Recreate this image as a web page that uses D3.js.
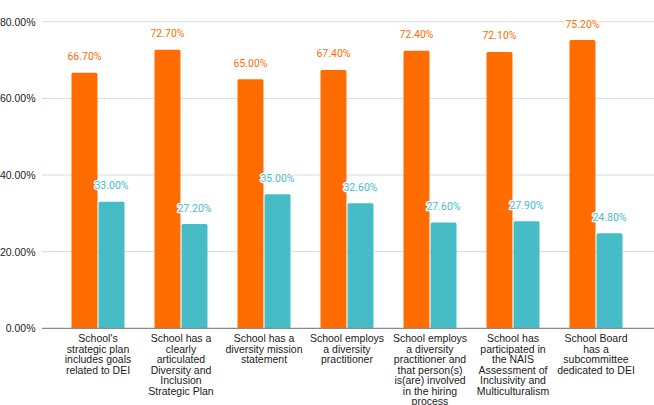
<!DOCTYPE html>
<html>
<head>
<meta charset="utf-8">
<script src="https://cdn.jsdelivr.net/npm/d3@7"></script>
<style>
  body { margin: 0; background: #fff; }
  svg { display: block; }
</style>
</head>
<body>
<div id="chart"></div>
<script>
// ---- data ----
const categories = [
    "School's strategic plan includes goals related to DEI",
    "School has a clearly articulated Diversity and Inclusion Strategic Plan",
    "School has a diversity mission statement",
    "School employs a diversity practitioner",
    "School employs a diversity practitioner and that person(s) is(are) involved in the hiring process",
    "School has participated in the NAIS Assessment of Inclusivity and Multiculturalism",
    "School Board has a subcommittee dedicated to DEI"
];
const seriesNames = ["Yes", "No"];
const yesValues = [66.7, 72.7, 65.0, 67.4, 72.4, 72.1, 75.2];
const noValues = [33.0, 27.2, 35.0, 32.6, 27.6, 27.9, 24.8];
const yTicks = [0, 20, 40, 60, 80];

const colors = { Yes: "#FF6D01", No: "#46BDC6" };

const width = 654, height = 405;

const svg = d3.select("#chart").append("svg")
    .attr("width", width).attr("height", height);

// scales
const x0 = d3.scaleBand().domain(categories).range([56.5, 637.5]);
const x1 = d3.scaleBand().domain(seriesNames).range([15, 68]).paddingInner(0.04);
const y = d3.scaleLinear().domain([0, 80]).range([328.3, 21.7]);

// gridlines
svg.append("g").selectAll("line")
    .data(yTicks.filter(d => d > 0)).enter()
    .append("line")
    .attr("x1", 42).attr("x2", width)
    .attr("y1", d => y(d)).attr("y2", d => y(d))
    .attr("stroke", "#dadada").attr("stroke-width", 1);

// y labels
svg.append("g").selectAll("text")
    .data(yTicks).enter()
    .append("text")
    .attr("x", 35.5).attr("y", d => y(d))
    .attr("text-anchor", "end")
    .attr("dominant-baseline", "central")
    .style("font-family", "'Liberation Sans', Arial, sans-serif")
    .style("font-size", "10.5px")
    .style("fill", "#222")
    .text(d => d3.format(".2f")(d) + "%");

// rows for bars
const rows = categories.map((c, i) => ({
    cat: c,
    vals: [{ key: "Yes", v: yesValues[i] }, { key: "No", v: noValues[i] }]
}));

function topRounded(x, yTop, w, yBot, r) {
    return `M${x},${yBot}V${yTop + r}Q${x},${yTop} ${x + r},${yTop}H${x + w - r}Q${x + w},${yTop} ${x + w},${yTop + r}V${yBot}Z`;
}

const groups = svg.append("g").selectAll("g")
    .data(rows).enter()
    .append("g")
    .attr("transform", d => `translate(${x0(d.cat)},0)`);

groups.selectAll("path")
    .data(d => d.vals).enter()
    .append("path")
    .attr("d", d => topRounded(x1(d.key), y(d.v), x1.bandwidth(), y(0), 1.5))
    .attr("fill", d => colors[d.key]);

// value labels (with white halo)
groups.selectAll("text")
    .data(d => d.vals).enter()
    .append("text")
    .attr("x", d => x1(d.key) + x1.bandwidth() / 2)
    .attr("y", d => y(d.v) - 12.5)
    .attr("text-anchor", "middle")
    .style("font-family", "Roboto, sans-serif")
    .style("font-size", "10.5px")
    .style("fill", d => colors[d.key])
    .style("stroke", "#fff")
    .style("stroke-width", 2.5)
    .style("paint-order", "stroke")
    .style("stroke-linejoin", "round")
    .text(d => d3.format(".2f")(d.v) + "%");

// baseline
svg.append("line")
    .attr("x1", 42).attr("x2", width)
    .attr("y1", y(0)).attr("y2", y(0))
    .attr("stroke", "#8a8a8a").attr("stroke-width", 1.3);

// category labels, wrapped
const catText = svg.append("g").selectAll("text")
    .data(categories).enter()
    .append("text")
    .attr("x", d => x0(d) + x0.bandwidth() / 2)
    .attr("y", 342)
    .attr("text-anchor", "middle")
    .style("font-family", "'Liberation Sans', Arial, sans-serif")
    .style("font-size", "10.5px")
    .style("fill", "#1a1a1a")
    .text(d => d);

catText.each(function(d) {
    wrap(d3.select(this), 79, 10.5);
});

function wrap(text, maxW, lineH) {
    const words = text.text().split(/\s+/);
    const xPos = text.attr("x");
    text.text(null);
    let line = [];
    let n = 0;
    let tspan = text.append("tspan").attr("x", xPos).attr("dy", 0);
    words.forEach(w => {
        line.push(w);
        tspan.text(line.join(" "));
        if (tspan.node().getComputedTextLength() > maxW && line.length > 1) {
            line.pop();
            tspan.text(line.join(" "));
            line = [w];
            n++;
            tspan = text.append("tspan").attr("x", xPos).attr("dy", lineH).text(w);
        }
    });
}
</script>
</body>
</html>
